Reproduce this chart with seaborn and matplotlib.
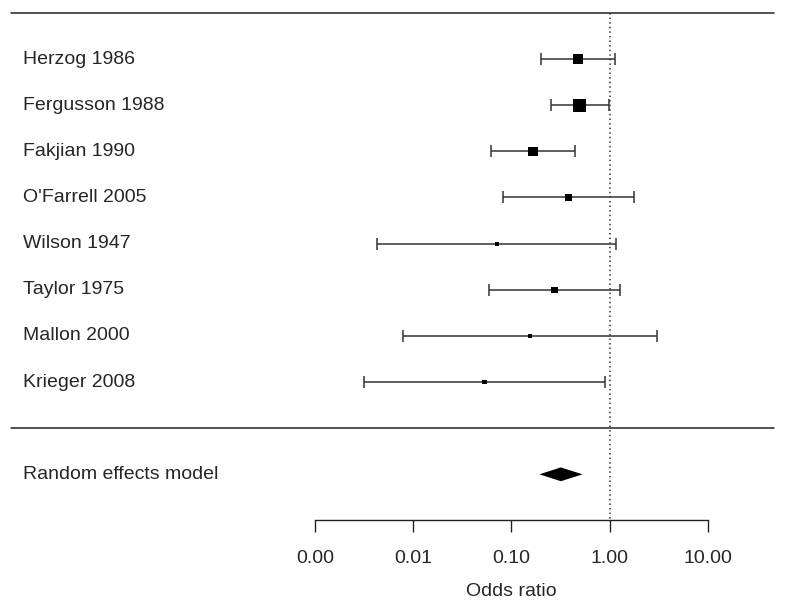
#!/usr/bin/env python3

import numpy as np
import pandas as pd
import seaborn as sns
import matplotlib.pyplot as plt
import matplotlib.ticker as mticker
from matplotlib import transforms


# study level data
studies = ["Herzog 1986", "Fergusson 1988", "Fakjian 1990", "O'Farrell 2005",
           "Wilson 1947", "Taylor 1975", "Mallon 2000", "Krieger 2008"]
odds_ratio = [0.476, 0.494, 0.166, 0.382, 0.071, 0.275, 0.155, 0.053]
ci_lower = [0.201, 0.252, 0.062, 0.082, 0.0043, 0.059, 0.0079, 0.0031]
ci_upper = [1.135, 0.977, 0.447, 1.775, 1.17, 1.276, 3.05, 0.904]
weight = [19.8, 33.4, 17.8, 9.7, 3.2, 8.3, 4.0, 4.0]

# pooled estimate
pooled_label = "Random effects model"
pooled_or = 0.319
pooled_lower = 0.193
pooled_upper = 0.530

ticks = [0.001, 0.01, 0.1, 1, 10]
tick_labels = ["0.00", "0.01", "0.10", "1.00", "10.00"]


sns.set_style("white")
plt.rcParams['font.family'] = ['Liberation Sans', 'DejaVu Sans']
fs = 14

df = pd.DataFrame({"study": studies, "OR": odds_ratio, "lo": ci_lower,
                   "hi": ci_upper, "weight": weight})
df["row"] = np.arange(len(df))

fig = plt.figure(figsize=(7.85, 6.10), dpi=100)
ax = fig.add_axes([0, 90 / 610, 1, 520 / 610])
ax.set_xscale("log")

# error bars first, squares on top
ax.errorbar(df["OR"], df["row"], xerr=[df["OR"] - df["lo"], df["hi"] - df["OR"]],
            fmt="none", ecolor="#333333", elinewidth=1.1, capsize=4, capthick=1.1,
            zorder=2)
k = 2.62  # marker area per unit weight
sns.scatterplot(data=df, x="OR", y="row", size="weight",
                sizes=(k * df["weight"].min(), k * df["weight"].max()),
                marker="s", color="black", linewidth=0, legend=False,
                ax=ax, zorder=3)

# pooled diamond
prow = len(df) + 1
ax.fill([pooled_lower, pooled_or, pooled_upper, pooled_or],
        [prow, prow - 0.15, prow, prow + 0.15], color="black", lw=0)

# reference line at OR = 1
ax.vlines(1, -1, 10, colors="#333333", linestyles=(0, (1, 2)), lw=1.1)

# separators
ax.axhline(-1, xmin=0.014, xmax=0.986, color="#222222", lw=1.1)
ax.axhline(len(df), xmin=0.014, xmax=0.986, color="#222222", lw=1.1)

# labels on the left
trans = transforms.blended_transform_factory(ax.transAxes, ax.transData)
for i, s in enumerate(studies):
    ax.text(0.029, i, s, transform=trans, va="center", ha="left", fontsize=fs)
ax.text(0.029, prow, pooled_label, transform=trans, va="center", ha="left",
        fontsize=fs)

ax.set_xlim(10 ** -6.217, 10 ** 1.79)
ax.set_ylim(9.99, -1.279)

for sp in ["top", "right", "left"]:
    ax.spines[sp].set_visible(False)
ax.spines["bottom"].set_bounds(0.001, 10)
ax.spines["bottom"].set_linewidth(1.0)
ax.spines["bottom"].set_color("#222222")

ax.set_xticks(ticks, tick_labels)
ax.xaxis.set_minor_locator(mticker.NullLocator())
ax.set_yticks([])
ax.tick_params(axis="x", direction="out", length=8.4, width=1.0, color="#222222",
               pad=13, labelsize=fs, bottom=True)
ax.set_xlabel("Odds ratio", fontsize=fs, labelpad=12)
ax.xaxis.label.set_x(511 / 785)
ax.set_ylabel("")

fig.savefig("out.png", dpi=100)
